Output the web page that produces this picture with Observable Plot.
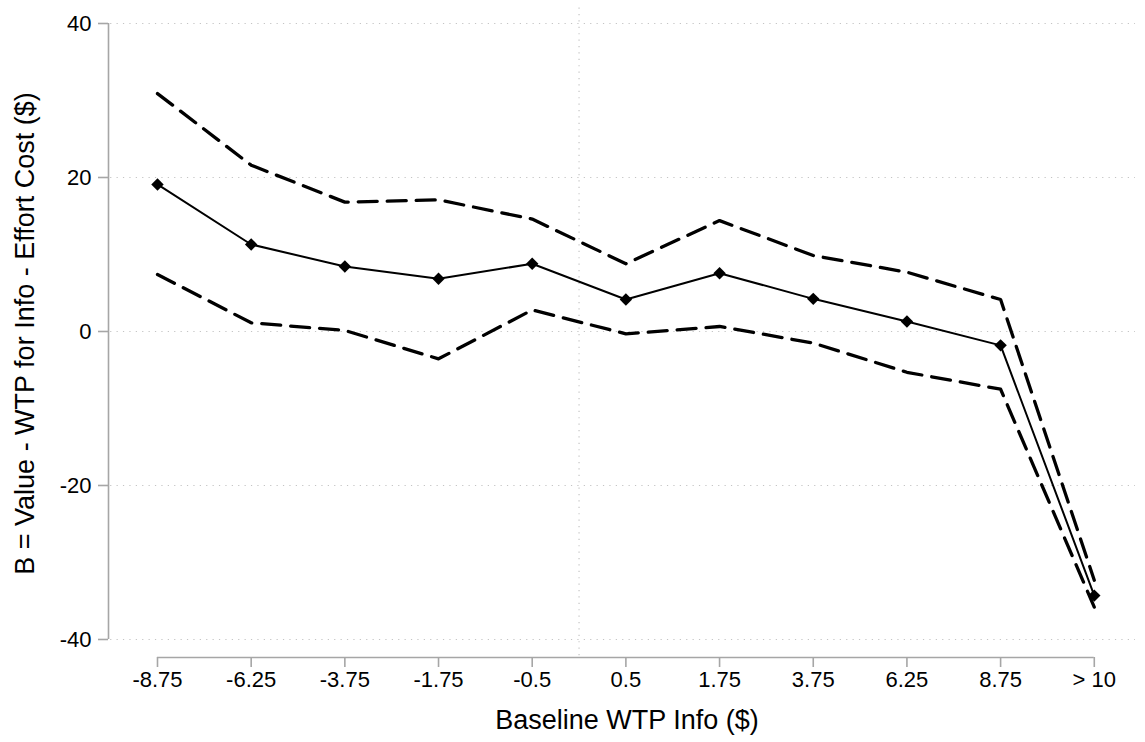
<!DOCTYPE html>
<html><head><meta charset="utf-8">
<script src="https://cdn.jsdelivr.net/npm/d3@7"></script>
<script src="https://cdn.jsdelivr.net/npm/@observablehq/plot@0.6"></script>
<style>body{margin:0;background:#fff;}</style>
</head><body><div id="chart"></div>
<script>
const categories = ["-8.75","-6.25","-3.75","-1.75","-0.5","0.5","1.75","3.75","6.25","8.75","> 10"];
const estimate = [19.1, 11.3, 8.44, 6.84, 8.8, 4.15, 7.57, 4.24, 1.3, -1.8, -34.3];
const upper = [30.9, 21.6, 16.8, 17.1, 14.6, 8.8, 14.4, 9.87, 7.7, 4.15, -32.3];
const lower = [7.4, 1.13, 0.13, -3.55, 2.8, -0.3, 0.65, -1.5, -5.3, -7.5, -35.8];
const yTicks = [-40, -20, 0, 20, 40];
const xLabel = "Baseline WTP Info ($)";
const yLabel = "B = Value - WTP for Info - Effort Cost ($)";

const rows = categories.map((c, i) => ({i, c, est: estimate[i], hi: upper[i], lo: lower[i]}));
const font = "'Liberation Sans', Arial, Helvetica, sans-serif";
const axisGray = "#a6a6a6";
const gridGray = "#c4c4c4";

const chart = Plot.plot({
  width: 1145, height: 742,
  marginLeft: 108, marginRight: 10, marginTop: 23, marginBottom: 85,
  style: {fontFamily: font, fontSize: "22px", background: "white", color: "black"},
  x: {type: "linear", domain: [-0.523, 10.44]},
  y: {domain: [-42.34, 40]},
  marks: [
    Plot.ruleY(yTicks, {x1: -0.5, x2: 10.44, stroke: gridGray, strokeWidth: 1.2, strokeDasharray: "1.2,5.2"}),
    Plot.ruleX([4.5], {y1: -42.1, y2: 42.3, stroke: gridGray, strokeWidth: 1.2, strokeDasharray: "1.2,5.2"}),
    Plot.ruleX([-0.523], {y1: -40, y2: 40, stroke: axisGray, strokeWidth: 1.6}),
    Plot.ruleY([-42.34], {x1: 0, x2: 10, stroke: axisGray, strokeWidth: 1.6}),
    Plot.axisY({ticks: yTicks, tickFormat: d => String(d), tickSize: 10, tickPadding: 7, stroke: axisGray, strokeWidth: 1.6, fill: "black", label: null, fontSize: 22}),
    Plot.axisX({ticks: d3.range(categories.length), tickFormat: d => categories[d], tickSize: 10, tickPadding: 4, stroke: axisGray, strokeWidth: 1.6, fill: "black", label: null, fontSize: 22}),
    Plot.line(rows, {x: "i", y: "hi", stroke: "black", strokeWidth: 3.3, strokeDasharray: "19,10"}),
    Plot.line(rows, {x: "i", y: "lo", stroke: "black", strokeWidth: 3.3, strokeDasharray: "19,10"}),
    Plot.line(rows, {x: "i", y: "est", stroke: "black", strokeWidth: 2}),
    Plot.dot(rows, {x: "i", y: "est", symbol: "diamond2", fill: "black", r: 5.6}),
    Plot.text([xLabel], {frameAnchor: "bottom", dy: 63, dx: 5, fontSize: 27, fill: "black", textAnchor: "middle", lineAnchor: "middle"}),
    Plot.text([yLabel], {frameAnchor: "left", rotate: -90, dx: -83, dy: -7, fontSize: 27, fill: "black", textAnchor: "middle", lineAnchor: "middle"})
  ]
});
document.getElementById("chart").appendChild(chart);
</script>
</body></html>
